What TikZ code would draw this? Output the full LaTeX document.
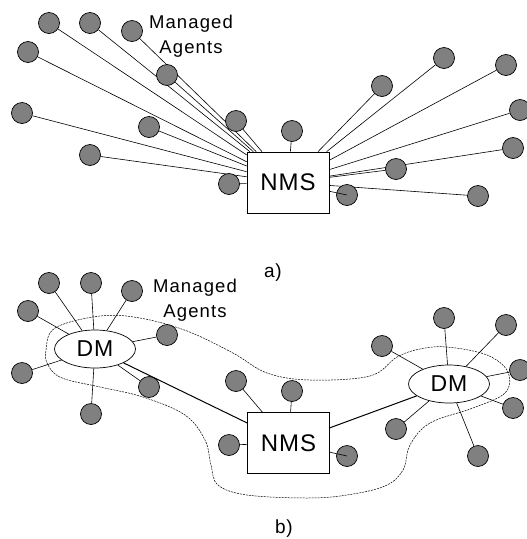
\documentclass[tikz,border=0pt]{standalone}
\usepackage{fontspec}
\setmainfont{Liberation Sans}
\usetikzlibrary{shapes.geometric}
\usetikzlibrary{backgrounds}

\begin{document}
\begin{tikzpicture}[x=1pt,y=-1pt,
  agent/.style={circle,draw,fill=gray,line width=0.7pt,minimum size=21pt,inner sep=0pt},
  nms/.style={rectangle,draw,fill=white,line width=0.7pt,minimum width=82pt,minimum height=61pt,font=\fontsize{24}{28}\selectfont\addfontfeature{LetterSpace=4}},
  dm/.style={ellipse,draw,fill=white,line width=0.7pt,minimum width=81pt,minimum height=38pt,inner sep=0pt,font=\fontsize{23}{27}\selectfont\addfontfeature{LetterSpace=4}},
  lbl/.style={font=\fontsize{18.5}{25}\selectfont\addfontfeature{LetterSpace=6},align=center,anchor=base},
  caption/.style={font=\fontsize{19}{23}\selectfont\addfontfeature{LetterSpace=4},anchor=base},
  link/.style={line width=0.6pt},
  trunk/.style={line width=1pt},
  zone/.style={dash pattern=on 2pt off 1pt,line width=0.5pt}]
\useasboundingbox (0,0) rectangle (527,539);

% a) every agent talks to the NMS
\node[nms] (nmsa) at (288,182.5) {NMS};
\node[agent] (a1) at (49,23) {};
\node[agent] (a2) at (90,23) {};
\node[agent] (a3) at (132,31) {};
\node[agent] (a4) at (28,52) {};
\node[agent] (a5) at (167,75) {};
\node[agent] (a6) at (22,113) {};
\node[agent] (a7) at (149,127) {};
\node[agent] (a8) at (90,155) {};
\node[agent] (a9) at (236,121) {};
\node[agent] (a10) at (292,131) {};
\node[agent] (a11) at (229,184) {};
\node[agent] (a12) at (347,195) {};
\node[agent] (a13) at (382,86) {};
\node[agent] (a14) at (444,58) {};
\node[agent] (a15) at (506,65) {};
\node[agent] (a16) at (520,110) {};
\node[agent] (a17) at (513,148) {};
\node[agent] (a18) at (396,169) {};
\node[agent] (a19) at (478,196) {};
\node[lbl] (mana) at (191,53) {Managed\\Agents};
\node[caption] (capa) at (273,277) {a)};

\begin{scope}[on background layer]
\draw[link] (a1) -- (nmsa);  \draw[link] (a2) -- (nmsa);
\draw[link] (a3) -- (nmsa);  \draw[link] (a4) -- (nmsa);
\draw[link] (a5) -- (nmsa);  \draw[link] (a6) -- (nmsa);
\draw[link] (a7) -- (nmsa);  \draw[link] (a8) -- (nmsa);
\draw[link] (a9) -- (nmsa);  \draw[link] (a10) -- (nmsa);
\draw[link] (a11) -- (nmsa); \draw[link] (a13) -- (nmsa);
\draw[link] (a14) -- (nmsa); \draw[link] (a15) -- (nmsa);
\draw[link] (a16) -- (nmsa); \draw[link] (a17) -- (nmsa);
\draw[link] (a18) -- (nmsa); \draw[link] (a19) -- (nmsa);
\end{scope}
\draw[link] (nmsa) -- (a12.center);

% b) domain managers in between
\node[nms] (nmsb) at (288.5,443) {NMS};
\node[dm] (dm1) at (95,349) {DM};
\node[dm] (dm2) at (449,384) {DM};
\node[agent] (b1) at (49,283) {};
\node[agent] (b2) at (91,283) {};
\node[agent] (b3) at (132,291) {};
\node[agent] (b4) at (28,311) {};
\node[agent] (b5) at (167,335) {};
\node[agent] (b6) at (22,373) {};
\node[agent] (b7) at (149,387) {};
\node[agent] (b8) at (91,414) {};
\node[agent] (b9) at (236,381) {};
\node[agent] (b10) at (292,391) {};
\node[agent] (b11) at (229,445) {};
\node[agent] (b12) at (347,456) {};
\node[agent] (b13) at (382,346) {};
\node[agent] (b14) at (444,318) {};
\node[agent] (b15) at (506,325) {};
\node[agent] (b16) at (520,370) {};
\node[agent] (b17) at (513,408) {};
\node[agent] (b18) at (396,429) {};
\node[agent] (b19) at (478,456) {};
\node[lbl] (manb) at (195,317) {Managed\\Agents};
\node[caption] (capb) at (284,533) {b)};

\begin{scope}[on background layer]
\draw[zone] plot[smooth cycle,tension=0.6] coordinates {
  (46,350) (55,328) (100,316) (140,318) (187,331) (233,353) (267,373)
  (310,380) (370,376) (397,357) (420,349) (447,347) (487,355) (508,372)
  (505,393) (473,408) (430,423) (410,445) (403,470) (385,486) (347,495)
  (307,498) (247,495) (218,485) (211,465) (205,440) (185,415) (143,397)
  (100,387) (62,378) (48,365)};
\draw[link] (b1) -- (dm1); \draw[link] (b2) -- (dm1);
\draw[link] (b3) -- (dm1); \draw[link] (b4) -- (dm1);
\draw[link] (b5) -- (dm1); \draw[link] (b6) -- (dm1);
\draw[link] (b7) -- (dm1); \draw[link] (b8) -- (dm1);
\draw[link] (b9) -- (nmsb); \draw[link] (b10) -- (nmsb);
\draw[link] (b11) -- (nmsb);
\draw[link] (b13) -- (dm2); \draw[link] (b14) -- (dm2);
\draw[link] (b15) -- (dm2); \draw[link] (b16) -- (dm2);
\draw[link] (b17) -- (dm2); \draw[link] (b18) -- (dm2);
\draw[link] (b19) -- (dm2);
\end{scope}
\draw[link] (nmsb) -- (b12.center);
\draw[trunk] (dm1) -- (nmsb);
\draw[trunk] (nmsb) -- (dm2);
\end{tikzpicture}
\end{document}
